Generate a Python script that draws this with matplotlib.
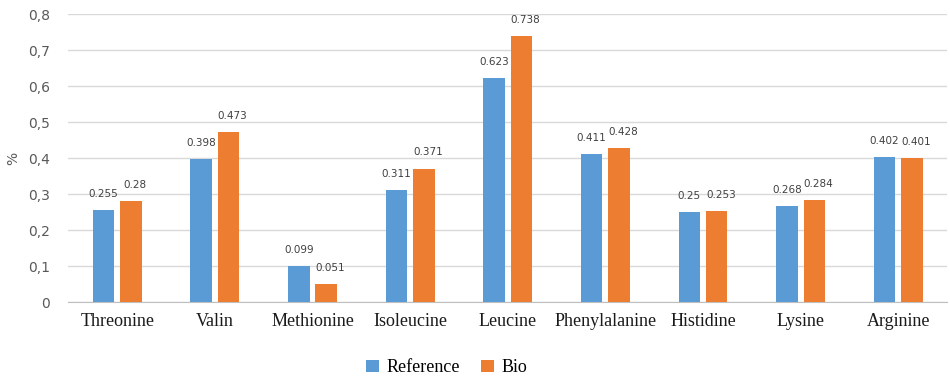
import numpy as np
import matplotlib.pyplot as plt
from matplotlib.ticker import FuncFormatter

amino_acids = ["Threonine", "Valin", "Methionine", "Isoleucine", "Leucine",
               "Phenylalanine", "Histidine", "Lysine", "Arginine"]
reference = [0.255, 0.398, 0.099, 0.311, 0.623, 0.411, 0.25, 0.268, 0.402]
bio = [0.28, 0.473, 0.051, 0.371, 0.738, 0.428, 0.253, 0.284, 0.401]

BLUE = "#5B9BD5"
ORANGE = "#ED7D31"
SERIF = ["Liberation Serif", "DejaVu Serif"]

fig = plt.figure(figsize=(9.5, 3.81), dpi=100)
ax = fig.add_axes([0.072, 0.207, 0.925, 0.756])

x = np.arange(len(amino_acids))
w = 0.22
gap = 0.06
b1 = ax.bar(x - (w + gap) / 2, reference, w, color=BLUE, label="Reference", zorder=3)
b2 = ax.bar(x + (w + gap) / 2, bio, w, color=ORANGE, label="Bio", zorder=3)

# value labels above each bar
for bars, vals, dx in ((b1, reference, 0), (b2, bio, 3)):
    for rect, v in zip(bars, vals):
        ax.annotate(f"{v:g}", (rect.get_x() + rect.get_width() / 2, v),
                    xytext=(dx, 8), textcoords="offset points",
                    ha="center", va="bottom", fontsize=7.5, color="#404040")

ax.set_xlim(-0.5, len(amino_acids) - 0.5)
ax.set_ylim(0, 0.8)
ax.set_yticks(np.arange(0, 0.81, 0.1))
ax.yaxis.set_major_formatter(FuncFormatter(
    lambda v, _: "0" if abs(v) < 1e-9 else f"{v:.1f}".replace(".", ",")))
ax.tick_params(axis="y", length=0, labelsize=10, labelcolor="#595959", pad=13)
ax.tick_params(axis="x", length=0, pad=8)
ax.set_xticks(x)
ax.set_xticklabels(amino_acids, fontsize=13, family=SERIF, color="#1a1a1a")

ax.grid(axis="y", color="#d9d9d9", linewidth=1, zorder=0)
for side in ("top", "right", "left"):
    ax.spines[side].set_visible(False)
ax.spines["bottom"].set_color("#bfbfbf")

ax.set_ylabel("%", fontsize=10, color="#595959", labelpad=6)

fig.legend(handles=[b1, b2], loc="center", bbox_to_anchor=(0.47, 0.035),
           ncol=2, frameon=False, prop={"family": SERIF, "size": 13},
           handlelength=0.7, handleheight=0.7, handletextpad=0.4, columnspacing=1.2)

fig.savefig("out.png", dpi=100)
